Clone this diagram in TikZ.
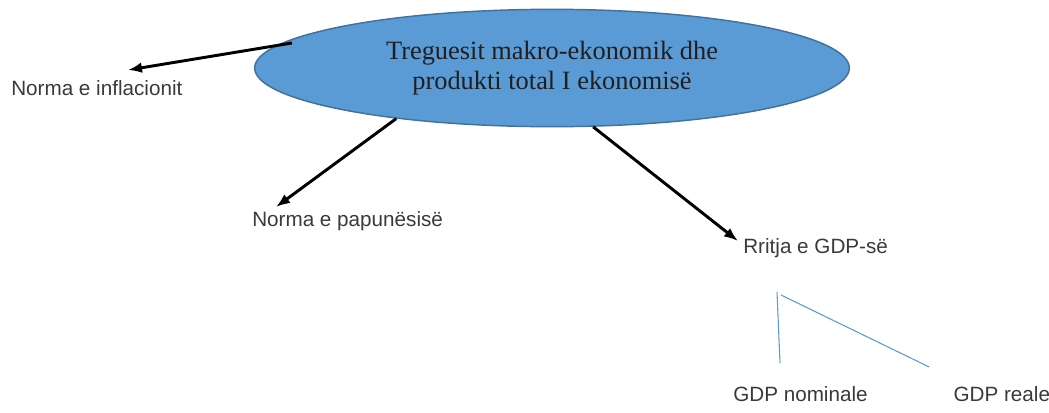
\documentclass[tikz,border=0pt]{standalone}
\usepackage{fontspec}
\setmainfont{Liberation Serif}
\setsansfont{Liberation Sans}
\usepackage{xcolor}
\usetikzlibrary{arrows.meta,positioning,shapes.geometric,calc}

\definecolor{ovalblue}{HTML}{5B9BD5}
\definecolor{ovaledge}{HTML}{41719C}
\definecolor{leafgray}{HTML}{3A3A3A}

\begin{document}
\begin{tikzpicture}[
    x=0.75pt, y=-0.75pt,
    >={Latex[length=10.5pt,width=8pt]},
    every node/.style={font=\sffamily},
    topic/.style={ellipse, draw=ovaledge, line width=1.1pt, fill=ovalblue,
                  minimum width=446pt, minimum height=88pt, align=center,
                  text=black!88, font=\rmfamily\fontsize{19.8}{22.5}\selectfont},
    leaf/.style={inner sep=0pt, anchor=base west, text=leafgray,
                 font=\sffamily\fontsize{15.5}{18}\selectfont},
    arrow/.style={->, line width=2.2pt, black},
    split/.style={draw=ovalblue, line width=0.8pt},
]
\useasboundingbox (0,0) rectangle (1049,412);

% --- Central topic ---
\node[topic] (main) at (552,68)
    {Treguesit makro-ekonomik dhe\\produkti total I ekonomisë};

% --- Indicators ---
\node[leaf] (infl) at (11,95) {Norma e inflacionit};
\node[leaf] (unemp) at (252,226) {Norma e papunësisë};
\node[leaf] (growth) at (743,253) {Rritja e GDP-së};

% --- GDP kinds ---
\node[leaf] (nominal) at (733,401) {GDP nominale};
\node[leaf, base right=64pt of nominal] (real) {GDP reale};

% --- Arrows ---
\draw[arrow] ($(main.west)+(38,-25)$) -- ($(infl.base west)+(117,-25)$);
\draw[arrow] (main.198.9) -- ($(unemp.base west)+(24,-19)$);
\draw[arrow] (main.305.9) -- ($(growth.base west)+(-5,-12)$);

% --- Split lines ---
\draw[split] ($(growth.base west)+(34,39)$) -- ($(nominal.base west)+(47,-38)$);
\draw[split] ($(growth.base west)+(38,42)$) -- ($(real.base west)+(-24,-34)$);

\end{tikzpicture}
\end{document}
